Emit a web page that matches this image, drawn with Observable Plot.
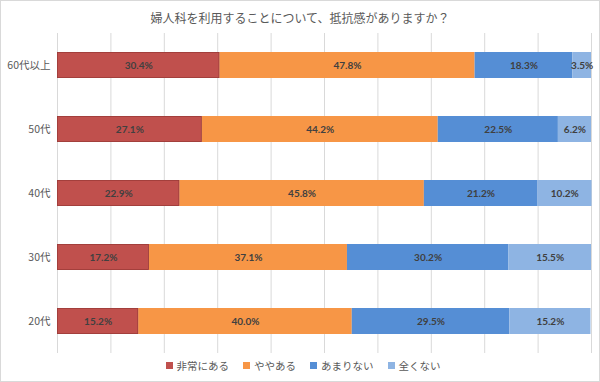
<!DOCTYPE html>
<html><head><meta charset="utf-8">
<script src="https://cdn.jsdelivr.net/npm/d3@7"></script>
<script src="https://cdn.jsdelivr.net/npm/@observablehq/plot@0.6"></script>
<style>
html,body{margin:0;padding:0;background:#fff;}
#wrap{position:relative;width:598px;height:380px;border:1px solid #d9d9d9;overflow:hidden;font-family:"Noto Sans CJK JP","Noto Sans",sans-serif;}
#title{height:29px;line-height:34px;text-align:center;font-size:12px;color:#595959;}
#legend{display:flex;justify-content:center;gap:14px;font-size:10.5px;color:#595959;margin-top:-3px;margin-left:6px;}
#legend span.item{display:flex;align-items:center;}
#legend span.sw{display:inline-block;width:7px;height:7px;margin-right:4px;}
</style></head>
<body><div id="wrap"><div id="title">婦人科を利用することについて、抵抗感がありますか？</div><div id="chart"></div><div id="legend"></div></div>
<script>
const ages = ["60代以上","50代","40代","30代","20代"];
const categories = ["非常にある","ややある","あまりない","全くない"];
const colors = ["#C0504D","#F79646","#558ED5","#8EB4E3"];
const veryMuch = [30.4, 27.1, 22.9, 17.2, 15.2];
const somewhat = [47.8, 44.2, 45.8, 37.1, 40.0];
const notMuch  = [18.3, 22.5, 21.2, 30.2, 29.5];
const notAtAll = [3.5, 6.2, 10.2, 15.5, 15.2];
const xTicks = [0,10,20,30,40,50,60,70,80,90,100];

const series = [veryMuch, somewhat, notMuch, notAtAll];
const data = [];
ages.forEach((a,i)=>{
  categories.forEach((c,j)=>{
    data.push({age:a, cat:c, value:series[j][i], order:j});
  });
});

const plot = Plot.plot({
  width: 598,
  height: 331,
  marginLeft: 56,
  marginRight: 8,
  marginTop: 3,
  marginBottom: 8,
  x: {domain:[0,100], axis:null},
  y: {domain: ages, paddingInner: 0.6, paddingOuter: 0.3, label:null},
  color: {domain: categories, range: colors},
  style: {fontFamily: '"Noto Sans CJK JP", sans-serif'},
  marks: [
    Plot.ruleX(xTicks, {stroke:"#d9d9d9", strokeWidth:1}),
    Plot.axisY({tickSize:0, tickPadding:7, fontSize:10.5, color:"#595959", label:null}),
    Plot.barX(data, Plot.stackX({x:"value", y:"age", fill:"cat", order: categories, inset:0})),
    Plot.barX(data, Plot.stackX({x:"value", y:"age", z:"cat", order: categories, fill:"none", stroke: d => d.cat === "非常にある" ? "#9b3b39" : "none", strokeWidth: 0.8, inset:0.4})),
    Plot.text(data, Plot.stackX({x:"value", y:"age", z:"cat", order: categories, text: d => d.value.toFixed(1) + "%", fill:"#404040", fontWeight:"bold", fontSize:10, fontFamily:"Lato, sans-serif"}))
  ]
});
document.getElementById("chart").appendChild(plot);

const lg = document.getElementById("legend");
categories.forEach((c,i)=>{
  const s = document.createElement("span"); s.className="item";
  s.innerHTML = `<span class="sw" style="background:${colors[i]}"></span>${c}`;
  lg.appendChild(s);
});
</script></body></html>
